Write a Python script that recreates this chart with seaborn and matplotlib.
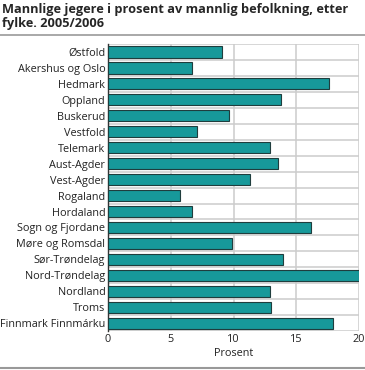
import matplotlib
matplotlib.use("Agg")
import matplotlib.pyplot as plt
import seaborn as sns
import pandas as pd
import numpy as np

# Data
fylker = ['Østfold', 'Akershus og Oslo', 'Hedmark', 'Oppland', 'Buskerud', 'Vestfold',
          'Telemark', 'Aust-Agder', 'Vest-Agder', 'Rogaland', 'Hordaland',
          'Sogn og Fjordane', 'Møre og Romsdal', 'Sør-Trøndelag', 'Nord-Trøndelag',
          'Nordland', 'Troms', 'Finnmark Finnmárku']
prosent = [9.1, 6.7, 17.6, 13.8, 9.6, 7.1, 12.9, 13.5, 11.3, 5.7, 6.7,
           16.2, 9.9, 13.9, 20.0, 12.9, 13.0, 17.9]

df = pd.DataFrame({'Fylke': fylker, 'Prosent': prosent})

sns.set_style('white')
plt.rcParams['font.family'] = ['Open Sans', 'DejaVu Sans']

fig = plt.figure(figsize=(3.65, 3.7), dpi=100)
ax = fig.add_axes([0.296, 0.105, 0.688, 0.776])

sns.barplot(data=df, x='Prosent', y='Fylke', orient='h', color='#17999a',
            saturation=1, width=0.7, edgecolor='#1f3d3d', linewidth=0.8, ax=ax, zorder=3)

ax.set_xlim(0, 20)
ax.set_ylim(len(fylker) - 0.5, -0.5)
ax.set_xticks([0, 5, 10, 15, 20])
ax.set_yticks(np.arange(len(fylker) + 1) - 0.5, minor=True)
ax.grid(axis='x', color='#cccccc', linewidth=1.1, zorder=0)
ax.grid(axis='y', which='minor', color='#cccccc', linewidth=1.1, zorder=0)
ax.grid(axis='y', which='major', visible=False)
ax.tick_params(axis='both', which='both', length=0, labelsize=7.8, colors='#222222', pad=2)
for s in ['top', 'right', 'bottom']:
    ax.spines[s].set_visible(False)
ax.spines['left'].set_color('#333333')
ax.spines['left'].set_linewidth(1)
ax.set_ylabel('')
ax.set_xlabel('Prosent', fontsize=7.8, color='#222222', labelpad=2)

fig.text(0.005, 0.993, 'Mannlige jegere i prosent av mannlig befolkning, etter\nfylke. 2005/2006',
         fontsize=9.2, fontweight='bold', va='top', ha='left', linespacing=1.1)
fig.add_artist(plt.Line2D([0, 1], [0.905, 0.905], color='#999999', linewidth=1.2))
fig.add_artist(plt.Line2D([0, 1], [0.005, 0.005], color='#999999', linewidth=1.5))

fig.savefig('out.png', dpi=100)
